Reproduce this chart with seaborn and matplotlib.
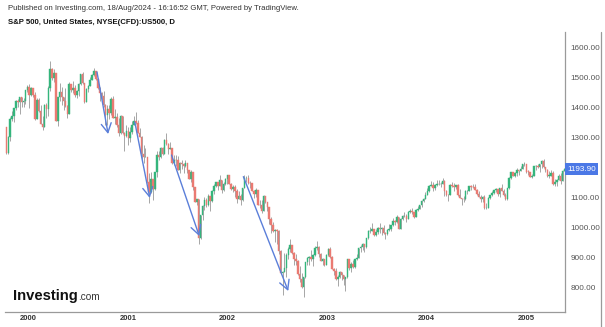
import numpy as np
import pandas as pd
import matplotlib
matplotlib.use("Agg")
import matplotlib.pyplot as plt
import matplotlib.dates as mdates
import matplotlib.transforms as mtransforms
from matplotlib.lines import Line2D
import seaborn as sns

sns.set_theme(style="white")
plt.rcParams["font.family"] = ["Liberation Sans", "DejaVu Sans"]

# ---------------- data (weekly bars) ----------------
first_week = "1999-10-13"
first_open = 1336

closes = [
    # 1999
    1247, 1301, 1362, 1370, 1397, 1422, 1417, 1433, 1417, 1421, 1458, 1469,
    # 2000
    1441, 1465, 1441, 1360, 1424, 1387, 1346, 1333, 1409, 1395, 1464, 1527, 1499,
    1516, 1356, 1434, 1452, 1433, 1420, 1406, 1378, 1477, 1457, 1465, 1441, 1455,
    1478, 1510, 1480, 1419, 1462, 1471, 1491, 1507, 1521, 1495, 1466, 1449, 1437,
    1408, 1374, 1396, 1380, 1427, 1366, 1367, 1341, 1315, 1370, 1313, 1305, 1320,
    # 2001
    1298, 1318, 1342, 1355, 1349, 1315, 1302, 1246, 1234, 1234, 1150, 1117, 1160,
    1128, 1183, 1242, 1234, 1266, 1245, 1292, 1277, 1260, 1264, 1214, 1225, 1224,
    1190, 1215, 1210, 1205, 1214, 1190, 1161, 1185, 1134, 1085, 1093, 966, 1041,
    1071, 1092, 1073, 1104, 1087, 1120, 1139, 1150, 1139, 1158, 1124, 1144, 1161,
    # 2002
    1173, 1146, 1128, 1134, 1122, 1096, 1104, 1090, 1131, 1164, 1166, 1148, 1147,
    1122, 1111, 1125, 1076, 1073, 1054, 1106, 1083, 1067, 1028, 1007, 989, 990,
    989, 921, 847, 852, 864, 908, 928, 940, 916, 893, 889, 846, 827,
    800, 835, 884, 897, 900, 894, 909, 930, 936, 912, 889, 895, 875,
    # 2003
    908, 927, 901, 861, 856, 829, 834, 851, 841, 829, 833, 895, 863,
    878, 868, 893, 898, 930, 933, 944, 933, 964, 987, 988, 995, 976,
    985, 998, 993, 998, 980, 977, 990, 993, 1008, 1021, 1018, 1036, 996,
    1029, 1038, 1039, 1028, 1050, 1053, 1050, 1035, 1058, 1061, 1074, 1088, 1095,
    # 2004
    1108, 1122, 1139, 1141, 1131, 1142, 1146, 1144, 1145, 1156, 1121, 1109, 1108,
    1141, 1139, 1134, 1140, 1107, 1098, 1096, 1093, 1121, 1122, 1137, 1136, 1134,
    1126, 1112, 1101, 1096, 1102, 1064, 1064, 1099, 1107, 1114, 1123, 1128, 1110,
    1131, 1122, 1108, 1095, 1130, 1166, 1185, 1171, 1182, 1191, 1189, 1194, 1210, 1212,
    # 2005
    1186, 1185, 1168, 1171, 1203, 1206, 1201, 1211, 1222, 1200, 1190, 1172, 1172,
    1182, 1143, 1152, 1157, 1172, 1154, 1189, 1193.9,
]

highs = [
    1336, 1305, 1367, 1387, 1399, 1425, 1427, 1436, 1427, 1431, 1459, 1474,
    1478, 1467, 1465, 1450, 1430, 1432, 1407, 1370, 1410, 1415, 1470, 1553, 1530,
    1528, 1515, 1436, 1482, 1468, 1432, 1465, 1409, 1483, 1479, 1489, 1475, 1459,
    1482, 1512, 1517, 1481, 1465, 1475, 1500, 1510, 1530, 1520, 1497, 1468, 1450,
    1455, 1410, 1408, 1407, 1434, 1438, 1396, 1380, 1365, 1376, 1372, 1318, 1340,
    1335, 1333, 1354, 1370, 1383, 1357, 1330, 1305, 1275, 1264, 1234, 1180, 1185,
    1162, 1186, 1253, 1254, 1268, 1268, 1295, 1315, 1280, 1286, 1265, 1240, 1240,
    1237, 1218, 1225, 1216, 1226, 1215, 1192, 1190, 1186, 1135, 1096, 1093, 1042,
    1075, 1100, 1097, 1110, 1105, 1125, 1146, 1152, 1152, 1173, 1158, 1150, 1164,
    1176, 1172, 1149, 1140, 1140, 1127, 1120, 1110, 1132, 1173, 1170, 1174, 1154,
    1148, 1125, 1131, 1126, 1090, 1090, 1108, 1106, 1085, 1068, 1035, 1018, 995,
    995, 990, 925, 855, 916, 913, 935, 962, 940, 917, 912, 891, 870,
    847, 836, 885, 900, 903, 925, 910, 938, 955, 937, 915, 898, 895,
    910, 932, 935, 905, 866, 864, 840, 853, 852, 842, 835, 895, 896,
    885, 890, 896, 912, 932, 940, 947, 946, 966, 991, 1002, 1015, 996,
    994, 1002, 1015, 1000, 1008, 985, 993, 1011, 1009, 1030, 1025, 1040, 1036,
    1031, 1040, 1050, 1043, 1054, 1062, 1063, 1052, 1060, 1072, 1075, 1091, 1097,
    1118, 1131, 1141, 1155, 1150, 1143, 1158, 1158, 1151, 1163, 1158, 1125, 1110,
    1145, 1150, 1147, 1142, 1145, 1127, 1098, 1105, 1123, 1124, 1138, 1140, 1145,
    1145, 1127, 1120, 1108, 1104, 1108, 1080, 1100, 1108, 1120, 1124, 1130, 1129,
    1132, 1143, 1127, 1115, 1131, 1167, 1185, 1185, 1184, 1198, 1192, 1206, 1211, 1217,
    1212, 1191, 1185, 1179, 1204, 1208, 1212, 1212, 1225, 1229, 1201, 1193, 1189,
    1192, 1188, 1160, 1162, 1178, 1180, 1192, 1197,
]

lows = [
    1245, 1246, 1287, 1354, 1352, 1392, 1400, 1379, 1400, 1400, 1410, 1450,
    1398, 1438, 1436, 1358, 1360, 1386, 1345, 1325, 1336, 1366, 1370, 1455, 1490,
    1484, 1355, 1339, 1420, 1408, 1392, 1402, 1364, 1378, 1450, 1447, 1436, 1430,
    1437, 1475, 1477, 1413, 1418, 1450, 1470, 1490, 1503, 1492, 1460, 1421, 1425,
    1402, 1340, 1342, 1360, 1375, 1363, 1344, 1336, 1305, 1312, 1310, 1254, 1300,
    1276, 1285, 1312, 1340, 1345, 1313, 1300, 1228, 1215, 1233, 1148, 1081, 1116,
    1091, 1125, 1167, 1225, 1232, 1240, 1244, 1276, 1245, 1260, 1210, 1208, 1205,
    1190, 1180, 1193, 1180, 1201, 1180, 1160, 1150, 1125, 1084, 1074, 945, 962,
    1026, 1057, 1067, 1070, 1054, 1084, 1112, 1133, 1125, 1138, 1115, 1122, 1140,
    1145, 1144, 1124, 1119, 1100, 1081, 1095, 1075, 1088, 1131, 1150, 1145, 1130,
    1120, 1099, 1100, 1075, 1064, 1048, 1054, 1080, 1055, 1012, 981, 985, 952,
    946, 911, 845, 776, 860, 833, 896, 918, 910, 873, 875, 842, 817,
    798, 768, 830, 873, 875, 888, 872, 905, 926, 900, 887, 873, 870,
    875, 906, 899, 860, 841, 825, 806, 832, 824, 807, 789, 830, 858,
    850, 865, 863, 892, 897, 919, 925, 918, 932, 962, 980, 988, 972,
    970, 978, 981, 976, 978, 960, 975, 988, 989, 1006, 1009, 1014, 995,
    995, 1025, 1035, 1018, 1028, 1047, 1045, 1031, 1035, 1055, 1060, 1068, 1086,
    1093, 1107, 1118, 1138, 1122, 1124, 1139, 1140, 1136, 1143, 1106, 1105, 1088,
    1108, 1135, 1120, 1128, 1106, 1097, 1076, 1084, 1092, 1112, 1120, 1124, 1130,
    1124, 1108, 1100, 1086, 1085, 1062, 1060, 1064, 1094, 1103, 1111, 1119, 1106,
    1101, 1120, 1103, 1090, 1090, 1127, 1161, 1170, 1169, 1172, 1173, 1187, 1194, 1205,
    1180, 1173, 1167, 1163, 1171, 1192, 1198, 1184, 1198, 1199, 1184, 1169, 1163,
    1171, 1142, 1137, 1139, 1157, 1146, 1154, 1187,
]

year_labels = ["2000", "2001", "2002", "2003", "2004", "2005"]
price_ticks = [800, 900, 1000, 1100, 1300, 1400, 1500, 1600]
last_price = 1193.90

arrow_starts = [("2000-09-10", 1518), ("2001-01-27", 1351), ("2001-06-11", 1241), ("2002-03-02", 1169)]
arrow_ends = [("2000-10-21", 1311), ("2001-03-23", 1098), ("2001-09-21", 971), ("2002-08-14", 788)]

title_line1 = "Published on Investing.com, 18/Aug/2024 - 16:16:52 GMT, Powered by TradingView."
title_line2 = "S&P 500, United States, NYSE(CFD):US500, D"

# ---------------- build frame ----------------
dates = pd.date_range(first_week, periods=len(closes), freq="7D")
opens = [first_open] + closes[:-1]
df = pd.DataFrame({"date": dates, "open": opens, "close": closes,
                   "high": highs, "low": lows})
df["high"] = df[["high", "open", "close"]].max(axis=1)
df["low"] = df[["low", "open", "close"]].min(axis=1)
df["up"] = df["close"] >= df["open"]

GREEN = "#34b57c"
RED = "#ea7a72"
WICK = "#8c8c8c"
BLUE = "#5b7fd9"
AXIS = "#9a9a9a"

W, H = 605, 327
fig = plt.figure(figsize=(W / 100, H / 100), dpi=100)
fig.patch.set_facecolor("white")
ax = fig.add_axes([5 / W, (H - 312) / H, 560 / W, 280 / H])
ax.set_facecolor("white")

xnum = mdates.date2num(df["date"])
ax.vlines(xnum, df["low"], df["high"], color=WICK, lw=0.6, alpha=0.9, zorder=2)
for up, col in [(True, GREEN), (False, RED)]:
    d = df[df["up"] == up]
    body = (d["close"] - d["open"]).abs()
    body = body.where(body > 1.5, 1.5)
    ax.bar(mdates.date2num(d["date"]), body, bottom=d[["open", "close"]].min(axis=1),
           width=5.4, color=col, edgecolor=col, linewidth=0.3, zorder=3)

# annotation arrows
for (sd, sv), (ed, ev) in zip(arrow_starts, arrow_ends):
    ax.annotate("", xy=(mdates.date2num(pd.Timestamp(ed)), ev),
                xytext=(mdates.date2num(pd.Timestamp(sd)), sv),
                arrowprops=dict(arrowstyle="->,head_length=0.55,head_width=0.3",
                                color=BLUE, lw=1.0, shrinkA=0, shrinkB=0),
                zorder=5)

# axes limits / ticks
ax.set_xlim(mdates.date2num(pd.Timestamp("1999-10-08")),
            mdates.date2num(pd.Timestamp("2005-05-27")))
ax.set_ylim(718, 1651)

ax.set_xticks([mdates.date2num(pd.Timestamp(f"{y}-01-03")) for y in year_labels])
ax.set_xticklabels(year_labels, fontsize=5.5, color="#333333", fontweight="bold")
ax.tick_params(axis="x", length=0, pad=2.5)

ax.yaxis.tick_right()
ax.set_yticks(price_ticks)
ax.set_yticklabels([f"{t:.2f}" for t in price_ticks], fontsize=5.9, color="#555555")
ax.tick_params(axis="y", direction="out", length=2.5, width=0.6, color=AXIS, pad=1.5)
ax.grid(False)

sns.despine(ax=ax, left=True, top=True, right=False, bottom=False)
for s in ("right", "bottom"):
    ax.spines[s].set_color(AXIS)
    ax.spines[s].set_linewidth(0.9)

# last price label
trans = mtransforms.blended_transform_factory(ax.transAxes, ax.transData)
ax.text(1.004, last_price, f"{last_price:.2f}", transform=trans, ha="left", va="center",
        fontsize=5.9, color="white", zorder=6, clip_on=False,
        bbox=dict(boxstyle="square,pad=0.28", fc="#4b78e6", ec="none"))

# right border line
fig.add_artist(Line2D([600.5 / W, 600.5 / W], [0, (H - 32) / H], transform=fig.transFigure,
                      color=AXIS, lw=0.9))

# titles
fig.text(8 / W, 1 - 8.5 / H, title_line1, fontsize=5.55, color="#333333", va="center", ha="left")
fig.text(8 / W, 1 - 23 / H, title_line2, fontsize=5.6, color="#111111", va="center",
         ha="left", fontweight="bold")

# Investing.com logo
t1 = fig.text(13 / W, 1 - 300 / H, "Investing", fontsize=10.6, fontweight="bold",
              color="#111111", va="baseline", ha="left")
fig.canvas.draw()
bb = t1.get_window_extent(renderer=fig.canvas.get_renderer())
fig.text(bb.x1 / W + 0.5 / W, 1 - 300 / H, ".com", fontsize=7.2, color="#333333",
         va="baseline", ha="left")

fig.savefig("out.png", dpi=100, facecolor="white")
